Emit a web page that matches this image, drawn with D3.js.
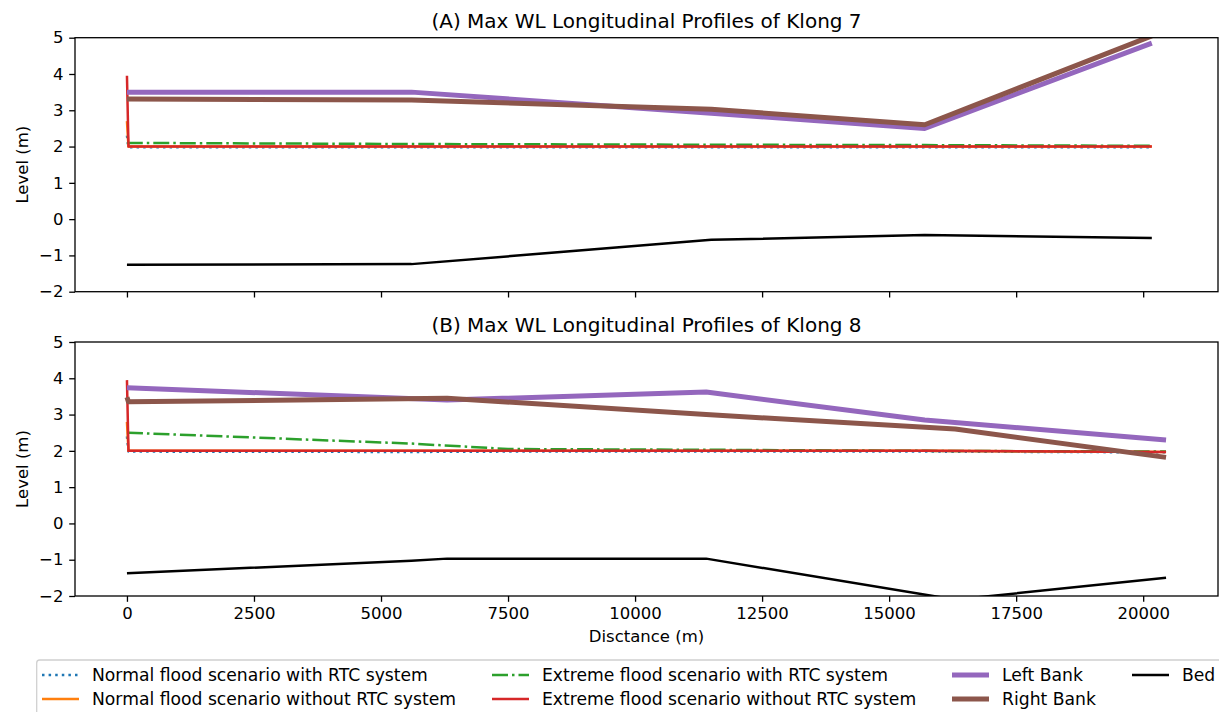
<!DOCTYPE html>
<html>
<head>
<meta charset="utf-8">
<script src="https://d3js.org/d3.v7.min.js"></script>
<style>
  body { margin: 0; background: #fff; }
  svg { font-family: "DejaVu Sans", sans-serif; }
</style>
</head>
<body>
<svg id="chart" width="1219" height="712"></svg>
<script>
// ---- data ----
// Klong 7
const k7WaterDist    = [0, 30, 5600, 11500, 15700, 20170];
const k7NormalRTC    = [2.30, 1.98, 1.98, 1.98, 1.98, 1.98];
const k7NormalNoRTC  = [2.70, 2.00, 2.00, 2.00, 2.00, 2.00];
const k7ExtremeRTC   = [2.12, 2.10, 2.07, 2.05, 2.04, 2.02];
const k7ExtremeNoRTC = [3.95, 2.00, 2.00, 2.00, 2.00, 2.00];
const k7BankDist     = [0, 5600, 11500, 15700, 20170];
const k7LeftBank     = [3.50, 3.50, 2.92, 2.50, 4.85];
const k7RightBank    = [3.31, 3.28, 3.03, 2.60, 5.05];
const k7Bed          = [-1.26, -1.24, -0.57, -0.44, -0.52];

// Klong 8
const k8WaterDist    = [0, 30, 5600, 7500, 11400, 15700, 20450];
const k8NormalRTC    = [2.40, 1.98, 1.97, 1.98, 1.98, 1.98, 1.96];
const k8NormalNoRTC  = [2.80, 2.00, 2.00, 2.00, 2.00, 2.00, 1.97];
const k8ExtremeRTC   = [2.50, 2.50, 2.20, 2.05, 2.03, 2.00, 1.98];
const k8ExtremeNoRTC = [3.95, 2.00, 2.00, 2.00, 2.00, 2.00, 1.97];
const k8LeftDist     = [0, 6300, 11400, 15700, 20450];
const k8LeftBank     = [3.74, 3.40, 3.62, 2.85, 2.30];
const k8RightDist    = [0, 30, 6300, 11400, 16300, 20450];
const k8RightBank    = [3.48, 3.35, 3.45, 3.00, 2.60, 1.82];
const k8BedDist      = [0, 5600, 6300, 11400, 16300, 20450];
const k8Bed          = [-1.37, -1.03, -0.97, -0.97, -2.10, -1.50];

const xTicks = [0, 2500, 5000, 7500, 10000, 12500, 15000, 17500, 20000];
const yTicks = [-2, -1, 0, 1, 2, 3, 4, 5];
const seriesNames = [
  "Normal flood scenario with RTC system",
  "Normal flood scenario without RTC system",
  "Extreme flood scenario with RTC system",
  "Extreme flood scenario without RTC system",
  "Left Bank", "Right Bank", "Bed"
];
const titles = [
  "(A) Max WL Longitudinal Profiles of Klong 7",
  "(B) Max WL Longitudinal Profiles of Klong 8"
];

// ---- styles ----
const styles = [
  { color: "#1f77b4", width: 2.5, dash: "2.5,4.1" },
  { color: "#ff7f0e", width: 2.5, dash: null },
  { color: "#2ca02c", width: 2.5, dash: "16,4,2.5,4" },
  { color: "#d62728", width: 2.5, dash: null },
  { color: "#9467bd", width: 5, dash: null },
  { color: "#8c564b", width: 5, dash: null },
  { color: "#000000", width: 2.5, dash: null }
];

function zip(xs, ys) { return xs.map((d, i) => [d, ys[i]]); }

const panels = [
  {
    top: 37.7, bottom: 291.7, title: titles[0], labels: false,
    series: [
      zip(k7WaterDist, k7NormalRTC), zip(k7WaterDist, k7NormalNoRTC),
      zip(k7WaterDist, k7ExtremeRTC), zip(k7WaterDist, k7ExtremeNoRTC),
      zip(k7BankDist, k7LeftBank), zip(k7BankDist, k7RightBank),
      zip(k7BankDist, k7Bed)
    ]
  },
  {
    top: 342, bottom: 596, title: titles[1], labels: true,
    series: [
      zip(k8WaterDist, k8NormalRTC), zip(k8WaterDist, k8NormalNoRTC),
      zip(k8WaterDist, k8ExtremeRTC), zip(k8WaterDist, k8ExtremeNoRTC),
      zip(k8LeftDist, k8LeftBank), zip(k8RightDist, k8RightBank),
      zip(k8BedDist, k8Bed)
    ]
  }
];

const svg = d3.select("#chart");
const left = 75, right = 1218;

// shared x with matplotlib-like 5% margins
const allDist = d3.merge([k7WaterDist, k7BankDist, k8WaterDist, k8LeftDist, k8RightDist, k8BedDist]);
const ext = d3.extent(allDist);
const pad = (ext[1] - ext[0]) * 0.05;
const x = d3.scaleLinear().domain([ext[0] - pad, ext[1] + pad]).range([left, right]);

panels.forEach(function(p, pi) {
  const y = d3.scaleLinear().domain([-2, 5]).range([p.bottom, p.top]);
  const g = svg.append("g");

  g.append("clipPath").attr("id", "clip" + pi)
    .append("rect")
    .attr("x", left).attr("y", p.top)
    .attr("width", right - left).attr("height", p.bottom - p.top);

  const line = d3.line().x(d => x(d[0])).y(d => y(d[1]));

  g.append("g").attr("clip-path", "url(#clip" + pi + ")")
    .selectAll("path")
    .data(p.series)
    .enter()
    .append("path")
    .attr("d", line)
    .attr("fill", "none")
    .attr("stroke", (d, i) => styles[i].color)
    .attr("stroke-width", (d, i) => styles[i].width)
    .attr("stroke-dasharray", (d, i) => styles[i].dash)
    .attr("stroke-linejoin", "round");

  // axes
  const ya = g.append("g").attr("transform", "translate(" + left + ",0)")
    .call(d3.axisLeft(y).tickValues(yTicks).tickFormat(d3.format("d"))
      .tickSize(5.8).tickPadding(5.8).tickSizeOuter(0));
  const xa = g.append("g").attr("transform", "translate(0," + p.bottom + ")")
    .call(d3.axisBottom(x).tickValues(xTicks).tickFormat(d3.format("d"))
      .tickSize(5.8).tickPadding(5.8).tickSizeOuter(0));
  if (!p.labels) xa.selectAll("text").remove();
  [ya, xa].forEach(function(a) {
    a.select(".domain").remove();
    a.selectAll("line").attr("stroke", "#000").attr("stroke-width", 1.3);
    a.selectAll("text").attr("fill", "#000").style("font-size", "16.5px")
      .style("font-family", "DejaVu Sans");
  });

  g.append("rect")
    .attr("x", left).attr("y", p.top)
    .attr("width", right - left).attr("height", p.bottom - p.top)
    .attr("fill", "none").attr("stroke", "#000").attr("stroke-width", 1.3);

  g.append("text")
    .attr("x", (left + right) / 2).attr("y", p.top - 10)
    .attr("text-anchor", "middle")
    .style("font-size", "20px")
    .text(p.title);

  g.append("text")
    .attr("transform", "translate(22," + ((p.top + p.bottom) / 2) + ") rotate(-90)")
    .attr("text-anchor", "middle")
    .attr("dy", "0.35em")
    .style("font-size", "16.5px")
    .text("Level (m)");
});

svg.append("text")
  .attr("x", (left + right) / 2).attr("y", 642)
  .attr("text-anchor", "middle")
  .style("font-size", "16.5px")
  .text("Disctance (m)");

// legend, 4 columns, filled column by column
const legendX = [42, 492, 952, 1132];
const legendY = [675, 699];
const lg = svg.append("g");
lg.append("rect")
  .attr("x", 36.7).attr("y", 660)
  .attr("width", 1218).attr("height", 80)
  .attr("rx", 3)
  .attr("fill", "#fff").attr("stroke", "#d0d0d0").attr("stroke-width", 1.3);

const items = lg.selectAll("g.item")
  .data(seriesNames)
  .enter()
  .append("g")
  .attr("class", "item")
  .attr("transform", (d, i) => "translate(" + legendX[Math.floor(i / 2)] + "," + legendY[i % 2] + ")");

items.append("line")
  .attr("x1", 0).attr("x2", 37).attr("y1", 0).attr("y2", 0)
  .attr("stroke", (d, i) => styles[i].color)
  .attr("stroke-width", (d, i) => styles[i].width)
  .attr("stroke-dasharray", (d, i) => styles[i].dash);

items.append("text")
  .attr("x", 50).attr("y", 0).attr("dy", "0.35em")
  .style("font-size", "17.2px")
  .text(d => d);
</script>
</body>
</html>
